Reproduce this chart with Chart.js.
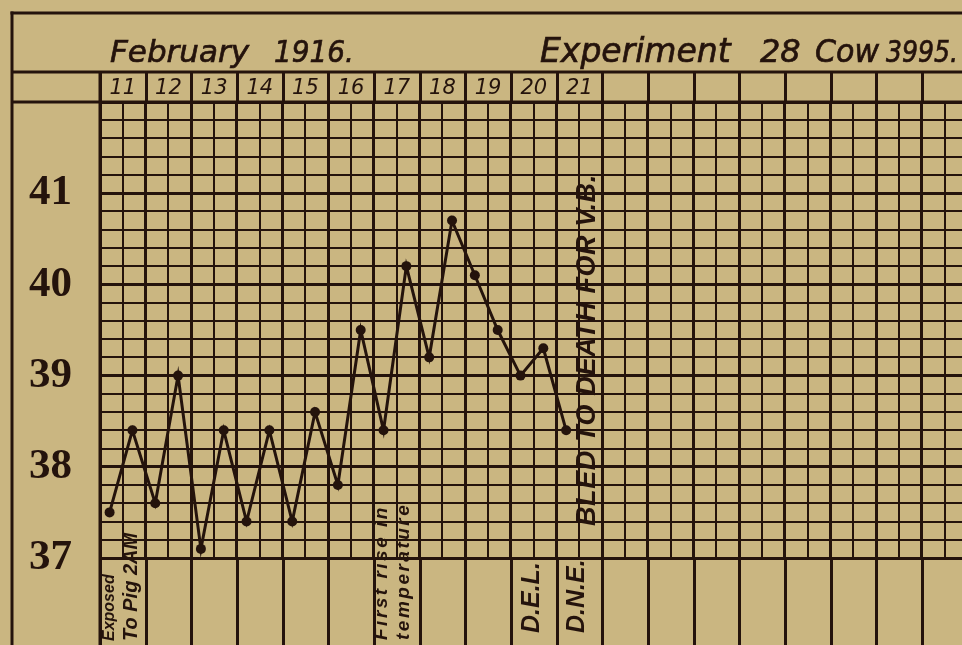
<!DOCTYPE html>
<html>
<head>
<meta charset="utf-8">
<script src="https://cdn.jsdelivr.net/npm/chart.js@4/dist/chart.umd.min.js"></script>
<style>
  html, body { margin: 0; padding: 0; background: #cab681; }
  #wrap { width: 962px; height: 645px; position: relative; overflow: hidden; }
</style>
</head>
<body>
<div id="wrap"><canvas id="chart" width="962" height="645"></canvas></div>
<script>
// ---------- data ----------
const monthTitle = ['February', '1916.'];
const experimentTitle = ['Experiment', '28', 'Cow', '3995.'];
const days = ['11', '12', '13', '14', '15', '16', '17', '18', '19', '20', '21'];
const readings = [
  '11 AM', '11 PM', '12 AM', '12 PM', '13 AM', '13 PM', '14 AM', '14 PM',
  '15 AM', '15 PM', '16 AM', '16 PM', '17 AM', '17 PM', '18 AM', '18 PM',
  '19 AM', '19 PM', '20 AM', '20 PM', '21 AM'
];
const temperatures = [
  37.5, 38.4, 37.6, 39.0, 37.1, 38.4, 37.4, 38.4, 37.4, 38.6,
  37.8, 39.5, 38.4, 40.2, 39.2, 40.7, 40.1, 39.5, 39.0, 39.3, 38.4
];
const yTickLabels = ['37', '38', '39', '40', '41'];
const noteTexts = ['Exposed', 'To Pig 2AM', 'First rise in', 'temperature', 'D.E.L.', 'D.N.E.', 'BLED TO DEATH FOR V.B.'];
const noteDays = ['11', '11', '17', '17', '20', '21', '21'];

// ---------- styling ----------
const INK = '#24130c';
const PAPER = '#cab681';
const HALF_DAY_SLOTS = 37.76;   // half-day columns visible across the sheet
const SLOT_OFFSET = 0.42;       // where a reading sits inside its half-day slot

const points = temperatures.map((t, i) => ({ x: i + SLOT_OFFSET, y: t }));
const isWhole = v => Math.abs(v - Math.round(v)) < 1e-6;

// note placement inside the day column (in half-day slots) and style
const noteStyle = [
  { sub: 0.42, bottom: 641, font: 'italic bold 16px "Liberation Sans"', spacing: '0px' },
  { sub: 1.40, bottom: 641, font: 'italic bold 20px "Liberation Sans"', spacing: '0px' },
  { sub: 0.36, bottom: 640, font: 'italic bold 19px "Liberation Sans"', spacing: '2.5px' },
  { sub: 1.30, bottom: 640, font: 'italic bold 19px "Liberation Sans"', spacing: '2.5px' },
  { sub: 0.92, bottom: 633, font: 'italic bold 25px "Liberation Sans"', spacing: '0px' },
  { sub: 0.90, bottom: 633, font: 'italic bold 25px "Liberation Sans"', spacing: '0px' },
  { sub: 1.36, bottom: 526, font: 'italic bold 27px "Liberation Sans"', spacing: '0.6px' }
];

const sheetPlugin = {
  id: 'sheet',
  beforeDraw(chart) {
    const c = chart.ctx;
    c.save();
    c.fillStyle = PAPER;
    c.fillRect(0, 0, chart.width, chart.height);
    c.restore();
  },
  afterDraw(chart) {
    const c = chart.ctx;
    const xs = chart.scales.x;
    const area = chart.chartArea;
    const W = chart.width, H = chart.height;
    c.save();
    c.strokeStyle = INK;
    c.fillStyle = INK;
    c.lineCap = 'butt';
    const line = (x1, y1, x2, y2, w) => {
      c.lineWidth = w;
      c.beginPath(); c.moveTo(x1, y1); c.lineTo(x2, y2); c.stroke();
    };
    // outer frame
    line(10.5, 13, W, 13, 3);
    line(12, 11.5, 12, H, 3);
    line(12, 72, W, 72, 3);
    line(12, area.top, W, area.top, 3);
    line(area.left, 72, area.left, H, 3);
    // day dividers in header row and notes strip
    for (let s = 0; s <= HALF_DAY_SLOTS; s += 2) {
      const px = Math.round(xs.getPixelForValue(s)) + 0.5;
      line(px, 72, px, area.top, 3);
      line(px, area.bottom, px, H, 3);
    }
    // titles
    c.textBaseline = 'alphabetic';
    c.textAlign = 'left';
    c.lineWidth = 0.7;
    const title = (t, x, size, maxW) => {
      c.font = 'italic ' + size + 'px "DejaVu Sans"';
      c.fillText(t, x, 62, maxW);
      c.strokeText(t, x, 62, maxW);
    };
    title(monthTitle[0], 110, 31, 150);
    title(monthTitle[1], 274, 31, 80);
    title(experimentTitle[0], 540, 33, 196);
    title(experimentTitle[1], 760, 32, 50);
    title(experimentTitle[2], 815, 32, 64);
    title(experimentTitle[3], 886, 31, 72);
    // rotated notes
    noteTexts.forEach((t, i) => {
      const d = days.indexOf(noteDays[i]);
      const st = noteStyle[i];
      const px = xs.getPixelForValue(d * 2 + st.sub);
      c.save();
      c.translate(px, st.bottom);
      c.rotate(-Math.PI / 2);
      c.font = st.font;
      c.letterSpacing = st.spacing;
      c.textAlign = 'left';
      c.textBaseline = 'middle';
      c.fillText(t, 0, 0);
      c.restore();
    });
    c.restore();
  }
};

new Chart(document.getElementById('chart'), {
  type: 'line',
  data: {
    labels: readings,
    datasets: [{
      label: 'Temperature',
      data: points,
      borderColor: INK,
      backgroundColor: INK,
      borderWidth: 3,
      pointRadius: 5,
      pointHoverRadius: 5,
      pointBackgroundColor: INK,
      pointBorderWidth: 0,
      tension: 0,
      clip: false,
      xAxisID: 'x',
      yAxisID: 'y'
    }]
  },
  options: {
    responsive: false,
    animation: false,
    devicePixelRatio: 1,
    layout: { autoPadding: false, padding: { left: 12, top: 72, right: 0, bottom: 87 } },
    plugins: { legend: { display: false }, tooltip: { enabled: false }, title: { display: false } },
    scales: {
      x: {
        type: 'linear',
        position: 'bottom',
        min: 0,
        max: HALF_DAY_SLOTS,
        border: { display: false },
        ticks: { display: false, stepSize: 1, includeBounds: false, autoSkip: false },
        grid: {
          color: INK,
          drawTicks: false,
          lineWidth: ctx => (ctx.tick && Math.round(ctx.tick.value) % 2 === 0) ? 3 : 2
        },
        afterFit: s => { s.height = 0; }
      },
      xTop: {
        type: 'linear',
        position: 'top',
        min: 0,
        max: HALF_DAY_SLOTS,
        border: { display: false },
        grid: { display: false, drawTicks: false },
        afterBuildTicks: s => { s.ticks = days.map((d, i) => ({ value: i * 2 + 1 })); },
        ticks: {
          autoSkip: false,
          maxRotation: 0,
          padding: 1,
          color: INK,
          font: { family: 'DejaVu Sans', style: 'italic', size: 21 },
          callback: v => days[Math.round((v - 1) / 2)] || ''
        },
        afterFit: s => { s.height = 30; }
      },
      y: {
        type: 'linear',
        position: 'left',
        min: 37,
        max: 42,
        border: { display: false },
        ticks: {
          stepSize: 0.2,
          autoSkip: false,
          padding: 28,
          color: INK,
          font: { family: 'Liberation Serif', weight: 'bold', size: 43 },
          callback: v => (isWhole(v) && Math.round(v) < 42) ? yTickLabels[Math.round(v) - 37] : ''
        },
        grid: {
          color: INK,
          drawTicks: false,
          lineWidth: ctx => (ctx.tick && isWhole(ctx.tick.value)) ? 3 : 2
        },
        afterFit: s => { s.width = 88; }
      }
    }
  },
  plugins: [sheetPlugin]
});
</script>
</body>
</html>
